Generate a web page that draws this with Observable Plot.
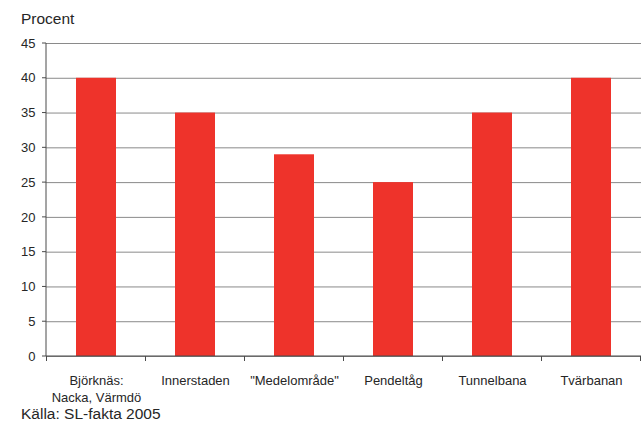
<!DOCTYPE html>
<html>
<head>
<meta charset="utf-8">
<script src="https://cdn.jsdelivr.net/npm/d3@7"></script>
<script src="https://cdn.jsdelivr.net/npm/@observablehq/plot@0.6"></script>
<style>
  html, body { margin: 0; padding: 0; background: #fff; }
  body { position: relative; width: 641px; height: 421px; overflow: hidden; font-family: "Liberation Sans", Arial, sans-serif; color: #262626; }
  #title { box-sizing: border-box; height: 32px; padding: 10px 0 4px 21px; font-size: 15.5px; line-height: 18px; }
  #chart svg { display: block; }
  #caption { position: absolute; left: 21px; top: 405px; font-size: 15.5px; line-height: 18px; }
</style>
</head>
<body>
<div id="title">Procent</div>
<div id="chart"></div>
<div id="caption">Källa: SL-fakta 2005</div>
<script>
const categories = ["Björknäs:\nNacka, Värmdö", "Innerstaden", "\"Medelområde\"", "Pendeltåg", "Tunnelbana", "Tvärbanan"];
const values = [40, 35, 29, 25, 35, 40];
const yTicks = [0, 5, 10, 15, 20, 25, 30, 35, 40, 45];

const data = categories.map((c, i) => ({category: c, value: values[i]}));

const barColor = "#ee332b";
const gridColor = "#8a8a8a";
const axisColor = "#4a4a4a";
const textColor = "#262626";

function axisLines(index, scales, vals, dims) {
  const x = scales.x, y = scales.y;
  const left = dims.marginLeft, right = dims.width - dims.marginRight;
  const n = categories.length;
  let bounds;
  if (typeof x.step === "function" && typeof x.bandwidth === "function") {
    const gap = (x.step() - x.bandwidth()) / 2;
    bounds = categories.map(c => x(c) - gap);
    bounds.push(x(categories[n - 1]) + x.bandwidth() + gap);
  } else {
    const step = (right - left) / n;
    bounds = d3.range(n + 1).map(i => left + i * step);
  }
  const y0 = y(0), yTop = y(d3.max(yTicks));
  const g = d3.create("svg:g").attr("stroke", axisColor).attr("stroke-width", 1).attr("fill", "none");
  g.append("line").attr("x1", left).attr("x2", right).attr("y1", y0).attr("y2", y0);
  g.append("line").attr("x1", left).attr("x2", left).attr("y1", yTop).attr("y2", y0);
  for (const b of bounds) {
    g.append("line").attr("x1", b).attr("x2", b).attr("y1", y0).attr("y2", y0 + 5);
  }
  for (const t of yTicks) {
    g.append("line").attr("x1", left - 4).attr("x2", left).attr("y1", y(t)).attr("y2", y(t));
  }
  return g.node();
}

const plot = Plot.plot({
  width: 641,
  height: 389,
  marginTop: 11,
  marginBottom: 65,
  marginLeft: 46,
  marginRight: 0,
  style: {fontFamily: "Liberation Sans, Arial, sans-serif", color: textColor, background: "transparent"},
  x: {domain: categories, paddingInner: 0.6, paddingOuter: 0.3, label: null},
  y: {domain: [0, 45], label: null},
  marks: [
    Plot.gridY(yTicks, {stroke: gridColor, strokeOpacity: 1, strokeWidth: 1}),
    Plot.barY(data, {x: "category", y: "value", fill: barColor}),
    axisLines,
    Plot.axisY(yTicks, {tickSize: 0, tickPadding: 11, fontSize: 13, fill: textColor, label: null}),
    Plot.axisX({tickSize: 0, tickPadding: 16, fontSize: 13, lineHeight: 1.33, fill: textColor, label: null})
  ]
});
document.getElementById("chart").appendChild(plot);
</script>
</body>
</html>
